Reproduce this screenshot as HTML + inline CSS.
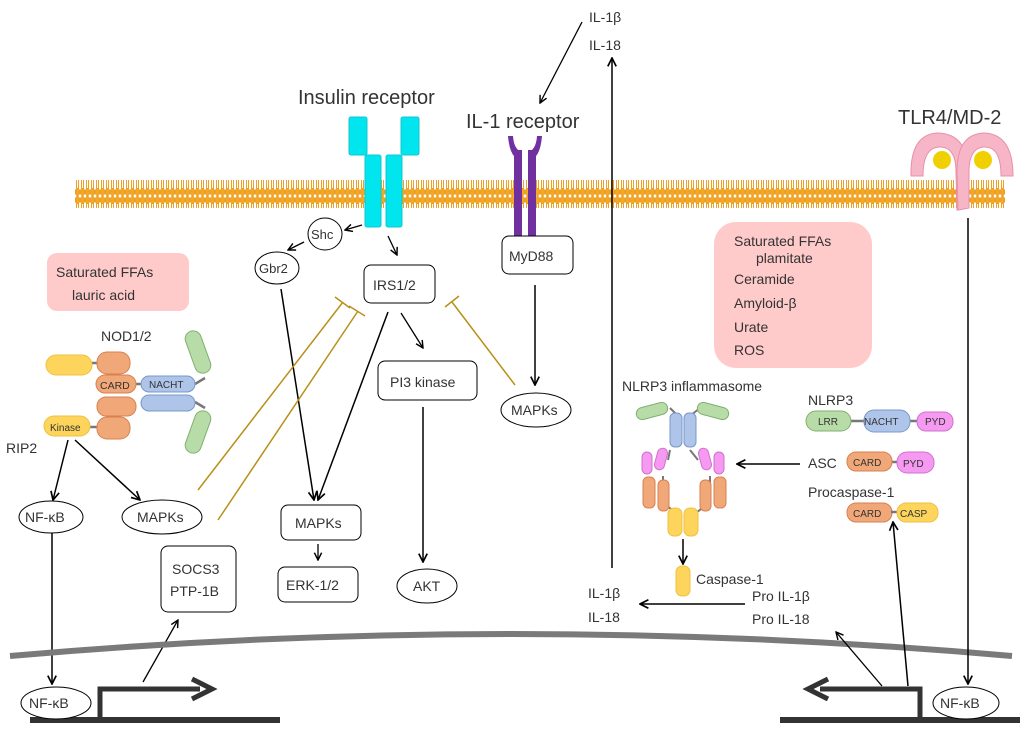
<!DOCTYPE html>
<html><head><meta charset="utf-8"><style>
body{margin:0;background:#fff}
svg{display:block;font-family:"Liberation Sans",sans-serif}
text{fill:#333}
</style></head><body>
<svg width="1024" height="732" viewBox="0 0 1024 732" xmlns="http://www.w3.org/2000/svg">
<defs>
<pattern id="lip" width="5" height="28" patternUnits="userSpaceOnUse">
<ellipse cx="2.5" cy="4" rx="2.4" ry="3.8" fill="#f5a623" stroke="#e08e10" stroke-width="0.5"/>
<ellipse cx="2.5" cy="24" rx="2.4" ry="3.8" fill="#f5a623" stroke="#e08e10" stroke-width="0.5"/>
<line x1="1.5" y1="7" x2="1.5" y2="21" stroke="#f0a020" stroke-width="1"/>
<line x1="3.5" y1="7" x2="3.5" y2="21" stroke="#f0a020" stroke-width="1"/>
</pattern>
<marker id="ar" viewBox="0 0 10 10" refX="9" refY="5" markerWidth="7" markerHeight="7" orient="auto"><path d="M1,1 L9,5 L1,9" fill="none" stroke="#000" stroke-width="1.6"/></marker>
</defs>
<rect x="75" y="180" width="930" height="28" fill="url(#lip)"/>
<g fill="#00e5ee" stroke="#10c8d0" stroke-width="1">
<rect x="349" y="117" width="18" height="38" rx="2"/><rect x="401" y="117" width="18" height="38" rx="2"/>
<rect x="365" y="155" width="16" height="72" rx="2"/><rect x="386" y="155" width="16" height="72" rx="2"/>
</g>
<text x="298" y="104" font-size="20">Insulin receptor</text>
<text x="466" y="128" font-size="20">IL-1 receptor</text>
<g fill="#7030a0">
<rect x="514" y="150" width="8" height="96"/><rect x="528" y="150" width="8" height="96"/>
<path d="M508,136 Q510,160 522,160 L522,152 Q514,150 513,136 Z"/>
<path d="M542,136 Q540,160 528,160 L528,152 Q536,150 537,136 Z"/>
</g>
<text x="898" y="124" font-size="20">TLR4/MD-2</text>
<g fill="#f7b6c8" stroke="#e890a8" stroke-width="1">
<path d="M911,176 Q910,134 938,133 Q968,134 968,172 L968,208 L957,210 L956,172 Q956,147 940,147 Q923,147 923,176 Z"/>
<path d="M957,172 Q957,134 984,133 Q1013,134 1013,176 L1001,176 Q1001,147 985,147 Q969,147 969,172 L969,208 L958,210 Z"/>
</g>
<circle cx="942" cy="160" r="9" fill="#f0d000"/><circle cx="983" cy="160" r="9" fill="#f0d000"/>
<text x="589" y="22" font-size="14">IL-1β</text>
<text x="589" y="50" font-size="14">IL-18</text>
<line x1="582" y1="22" x2="540" y2="103" stroke="#000" stroke-width="1.3" marker-end="url(#ar)"/>
<line x1="612" y1="568" x2="612" y2="58" stroke="#000" stroke-width="1.5" marker-end="url(#ar)"/>
<ellipse cx="325" cy="234" rx="17" ry="16" fill="#fff" stroke="#000"/><text x="311" y="239" font-size="13">Shc</text>
<ellipse cx="277" cy="268" rx="22" ry="16" fill="#fff" stroke="#000"/><text x="259" y="273" font-size="13">Gbr2</text>
<line x1="362" y1="225" x2="345" y2="230" stroke="#000" stroke-width="1.3" marker-end="url(#ar)"/>
<line x1="304" y1="242" x2="288" y2="250" stroke="#000" stroke-width="1.3" marker-end="url(#ar)"/>
<line x1="388" y1="236" x2="397" y2="255" stroke="#000" stroke-width="1.3" marker-end="url(#ar)"/>
<rect x="364" y="265" width="71" height="38" rx="7" fill="#fff" stroke="#000"/><text x="373" y="290" font-size="14">IRS1/2</text>
<rect x="378" y="361" width="99" height="39" rx="7" fill="#fff" stroke="#000"/><text x="390" y="387" font-size="14">PI3 kinase</text>
<line x1="401" y1="313" x2="423" y2="348" stroke="#000" stroke-width="1.3" marker-end="url(#ar)"/>
<line x1="423" y1="407" x2="423" y2="562" stroke="#000" stroke-width="1.5" marker-end="url(#ar)"/>
<ellipse cx="427" cy="586" rx="30" ry="17" fill="#fff" stroke="#000"/><text x="413" y="591" font-size="14">AKT</text>
<line x1="281" y1="289" x2="314" y2="500" stroke="#000" stroke-width="1.5" marker-end="url(#ar)"/>
<line x1="388" y1="312" x2="318" y2="500" stroke="#000" stroke-width="1.5" marker-end="url(#ar)"/>
<rect x="281" y="505" width="80" height="35" rx="7" fill="#fff" stroke="#000"/><text x="295" y="528" font-size="14">MAPKs</text>
<line x1="318" y1="544" x2="318" y2="560" stroke="#000" stroke-width="1.3" marker-end="url(#ar)"/>
<rect x="278" y="567" width="80" height="35" rx="7" fill="#fff" stroke="#000"/><text x="286" y="590" font-size="14">ERK-1/2</text>
<rect x="502" y="236" width="71" height="38" rx="7" fill="#fff" stroke="#000"/><text x="509" y="261" font-size="14">MyD88</text>
<line x1="535" y1="285" x2="535" y2="385" stroke="#000" stroke-width="1.5" marker-end="url(#ar)"/>
<ellipse cx="536" cy="410" rx="35" ry="17" fill="#fff" stroke="#000"/><text x="511" y="415" font-size="14">MAPKs</text>
<g stroke="#b8901a" stroke-width="1.5" fill="none">
<line x1="515" y1="385" x2="452" y2="302"/><line x1="445" y1="307" x2="459" y2="296"/>
<line x1="198" y1="490" x2="343" y2="302"/><line x1="335" y1="297" x2="350" y2="308"/>
<line x1="218" y1="520" x2="358" y2="311"/><line x1="349" y1="306" x2="365" y2="316"/>
</g>
<rect x="47" y="253" width="142" height="58" rx="10" fill="#ffcaca"/>
<text x="56" y="277" font-size="14" fill="#222">Saturated FFAs</text>
<text x="72" y="300" font-size="14" fill="#222">lauric acid</text>
<text x="101" y="341" font-size="14">NOD1/2</text>
<g stroke="#777" stroke-width="2.5"><line x1="92" y1="363" x2="100" y2="363"/><line x1="136" y1="384" x2="143" y2="384"/><line x1="195" y1="384" x2="205" y2="378"/><line x1="195" y1="402" x2="205" y2="408"/><line x1="90" y1="427" x2="100" y2="427"/></g>
<rect x="46" y="355" width="46" height="20" rx="10" fill="#fdd55c" stroke="#f0c040"/>
<rect x="97" y="352" width="33" height="22" rx="10" fill="#f0a878" stroke="#d98050"/>
<rect x="96" y="375" width="40" height="18" rx="9" fill="#f0a878" stroke="#d98050"/><text x="100" y="389" font-size="10.5">CARD</text>
<rect x="141" y="376" width="54" height="16" rx="8" fill="#aec4e8" stroke="#7898c8"/><text x="149" y="388" font-size="10">NACHT</text>
<rect x="97" y="397" width="39" height="19" rx="9" fill="#f0a878" stroke="#d98050"/>
<rect x="141" y="395" width="54" height="16" rx="8" fill="#aec4e8" stroke="#7898c8"/>
<rect x="44" y="416" width="46" height="20" rx="10" fill="#fdd55c" stroke="#f0c040"/><text x="50" y="431" font-size="10">Kinase</text>
<rect x="97" y="417" width="33" height="22" rx="10" fill="#f0a878" stroke="#d98050"/>
<rect x="190" y="330" width="16" height="44" rx="8" fill="#b8dca8" stroke="#80b070" transform="rotate(-20 198 352)"/>
<rect x="190" y="410" width="16" height="44" rx="8" fill="#b8dca8" stroke="#80b070" transform="rotate(20 198 432)"/>
<text x="6" y="453" font-size="14">RIP2</text>
<line x1="68" y1="440" x2="53" y2="500" stroke="#000" stroke-width="1.5" marker-end="url(#ar)"/>
<line x1="75" y1="440" x2="140" y2="500" stroke="#000" stroke-width="1.5" marker-end="url(#ar)"/>
<ellipse cx="51" cy="517" rx="32" ry="16" fill="#fff" stroke="#000"/><text x="25" y="522" font-size="14">NF-κB</text>
<ellipse cx="162" cy="517" rx="40" ry="17" fill="#fff" stroke="#000"/><text x="137" y="522" font-size="14">MAPKs</text>
<line x1="52" y1="533" x2="52" y2="684" stroke="#000" stroke-width="1.5" marker-end="url(#ar)"/>
<rect x="161" y="546" width="75" height="66" rx="7" fill="#fff" stroke="#000"/>
<text x="172" y="574" font-size="14">SOCS3</text><text x="170" y="596" font-size="14">PTP-1B</text>
<line x1="143" y1="682" x2="178" y2="620" stroke="#000" stroke-width="1.3" marker-end="url(#ar)"/>
<path d="M10,656 Q512,612 1012,656" fill="none" stroke="#7a7a7a" stroke-width="6"/>
<line x1="30" y1="720" x2="280" y2="720" stroke="#333" stroke-width="6"/>
<line x1="780" y1="720" x2="1020" y2="720" stroke="#333" stroke-width="6"/>
<path d="M100,720 L100,689 L200,689" fill="none" stroke="#333" stroke-width="5"/>
<path d="M192,679 L212,689 L192,699" fill="none" stroke="#333" stroke-width="5"/>
<path d="M920,720 L920,689 L820,689" fill="none" stroke="#333" stroke-width="5"/>
<path d="M828,679 L808,689 L828,699" fill="none" stroke="#333" stroke-width="5"/>
<ellipse cx="56" cy="703" rx="35" ry="16" fill="#fff" stroke="#000"/><text x="29" y="708" font-size="14">NF-κB</text>
<ellipse cx="966" cy="703" rx="33" ry="16" fill="#fff" stroke="#000"/><text x="940" y="708" font-size="14">NF-κB</text>
<line x1="968" y1="218" x2="968" y2="684" stroke="#000" stroke-width="1.5" marker-end="url(#ar)"/>
<line x1="908" y1="686" x2="893" y2="522" stroke="#000" stroke-width="1.5" marker-end="url(#ar)"/>
<line x1="882" y1="686" x2="836" y2="632" stroke="#000" stroke-width="1.3" marker-end="url(#ar)"/>
<rect x="714" y="222" width="158" height="146" rx="22" fill="#ffcaca"/>
<text x="734" y="246" font-size="14" fill="#222">Saturated FFAs</text>
<text x="756" y="263" font-size="14" fill="#222">plamitate</text>
<text x="734" y="284" font-size="14" fill="#222">Ceramide</text>
<text x="734" y="308" font-size="14" fill="#222">Amyloid-β</text>
<text x="734" y="332" font-size="14" fill="#222">Urate</text>
<text x="734" y="355" font-size="14" fill="#222">ROS</text>
<text x="622" y="391" font-size="14">NLRP3 inflammasome</text>
<g stroke="#777" stroke-width="2"><line x1="670" y1="408" x2="678" y2="416"/><line x1="700" y1="408" x2="690" y2="416"/><line x1="670" y1="450" x2="668" y2="460"/><line x1="690" y1="450" x2="698" y2="460"/><line x1="663" y1="476" x2="663" y2="484"/><line x1="710" y1="476" x2="710" y2="484"/><line x1="666" y1="505" x2="676" y2="513"/><line x1="706" y1="505" x2="696" y2="513"/></g>
<rect x="636" y="405" width="32" height="12" rx="6" fill="#b8dca8" stroke="#80b070" transform="rotate(-15 652 411)"/>
<rect x="697" y="405" width="32" height="12" rx="6" fill="#b8dca8" stroke="#80b070" transform="rotate(15 713 411)"/>
<rect x="670" y="413" width="12" height="34" rx="5" fill="#aec4e8" stroke="#7898c8"/>
<rect x="684" y="413" width="12" height="34" rx="5" fill="#aec4e8" stroke="#7898c8"/>
<g fill="#f59af0" stroke="#d070d0"><rect x="642" y="452" width="10" height="22" rx="5"/><rect x="656" y="448" width="10" height="22" rx="5" transform="rotate(15 661 459)"/><rect x="700" y="448" width="10" height="22" rx="5" transform="rotate(-15 705 459)"/><rect x="714" y="452" width="10" height="22" rx="5"/></g>
<g fill="#f0a878" stroke="#d98050"><rect x="643" y="477" width="12" height="31" rx="5"/><rect x="658" y="480" width="11" height="31" rx="5"/><rect x="700" y="480" width="11" height="31" rx="5"/><rect x="714" y="477" width="12" height="31" rx="5"/></g>
<g fill="#fdd55c" stroke="#f0c040"><rect x="668" y="508" width="14" height="28" rx="6"/><rect x="684" y="508" width="14" height="28" rx="6"/></g>
<line x1="683" y1="539" x2="683" y2="564" stroke="#000" stroke-width="1.5" marker-end="url(#ar)"/>
<rect x="676" y="566" width="14" height="30" rx="6" fill="#fdd55c" stroke="#f0c040"/>
<text x="696" y="584" font-size="14">Caspase-1</text>
<text x="808" y="405" font-size="14">NLRP3</text>
<line x1="850" y1="421" x2="866" y2="421" stroke="#777" stroke-width="2.5"/><line x1="909" y1="421" x2="918" y2="421" stroke="#777" stroke-width="2.5"/>
<rect x="806" y="411" width="45" height="20" rx="10" fill="#b8dca8" stroke="#80b070"/><text x="818" y="425" font-size="10">LRR</text>
<rect x="864" y="410" width="46" height="22" rx="10" fill="#aec4e8" stroke="#7898c8"/><text x="864" y="425" font-size="10">NACHT</text>
<rect x="917" y="412" width="36" height="19" rx="9" fill="#f59af0" stroke="#d070d0"/><text x="925" y="425" font-size="10">PYD</text>
<text x="808" y="468" font-size="14">ASC</text>
<line x1="891" y1="462" x2="897" y2="462" stroke="#777" stroke-width="2.5"/>
<rect x="847" y="452" width="45" height="19" rx="9" fill="#f0a878" stroke="#d98050"/><text x="853" y="466" font-size="10">CARD</text>
<rect x="897" y="452" width="37" height="21" rx="10" fill="#f59af0" stroke="#d070d0"/><text x="903" y="467" font-size="10">PYD</text>
<line x1="800" y1="464" x2="737" y2="464" stroke="#000" stroke-width="1.5" marker-end="url(#ar)"/>
<text x="808" y="497" font-size="14">Procaspase-1</text>
<rect x="847" y="503" width="45" height="19" rx="9" fill="#f0a878" stroke="#d98050"/><text x="853" y="517" font-size="10">CARD</text>
<line x1="891" y1="512" x2="898" y2="512" stroke="#777" stroke-width="2.5"/>
<rect x="897" y="503" width="41" height="19" rx="9" fill="#fdd55c" stroke="#f0c040"/><text x="900" y="517" font-size="10">CASP</text>
<text x="752" y="601" font-size="14">Pro IL-1β</text>
<text x="752" y="624" font-size="14">Pro IL-18</text>
<line x1="745" y1="604" x2="640" y2="604" stroke="#000" stroke-width="1.5" marker-end="url(#ar)"/>
<text x="588" y="598" font-size="14">IL-1β</text>
<text x="588" y="622" font-size="14">IL-18</text>
</svg>
</body></html>
